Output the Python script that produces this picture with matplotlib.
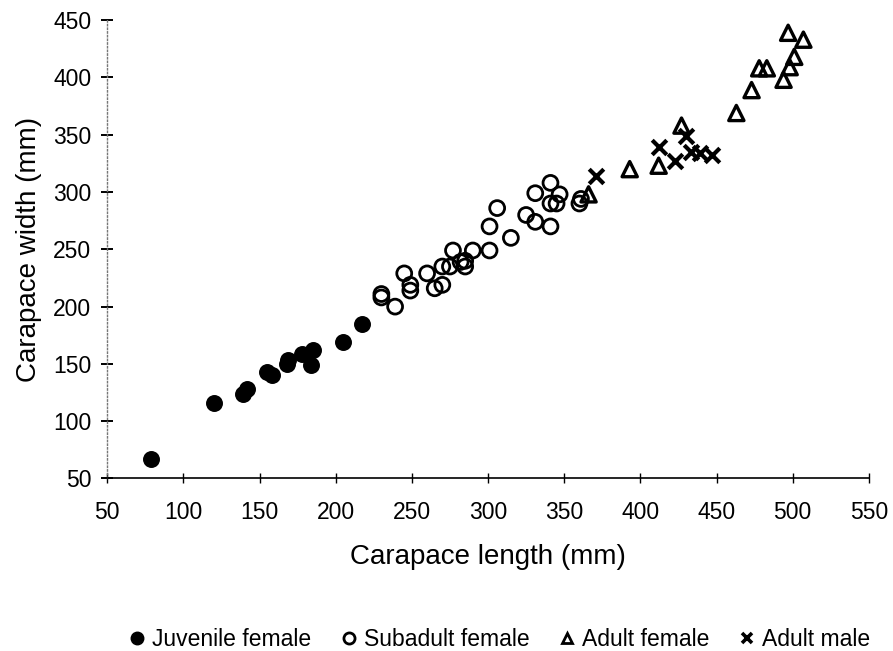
import matplotlib
matplotlib.use("Agg")
import matplotlib.pyplot as plt
from matplotlib.lines import Line2D

plt.rcParams['font.family'] = ['Liberation Sans', 'DejaVu Sans']

# carapace length (x) and width (y), mm
juv_len = [79, 120, 139, 142, 155, 158, 168, 169, 178, 184, 185, 205, 217]
juv_wid = [67, 116, 124, 128, 143, 140, 150, 153, 159, 149, 162, 169, 185]

sub_len = [230, 230, 239, 245, 249, 249, 260, 265, 270, 270, 275, 277, 282, 285,
           285, 290, 301, 301, 306, 315, 325, 331, 331, 341, 341, 341, 345, 347,
           360, 361]
sub_wid = [208, 211, 200, 229, 219, 214, 229, 216, 219, 235, 235, 249, 239, 235,
           240, 249, 249, 270, 286, 260, 280, 274, 299, 270, 308, 290, 290, 298,
           290, 294]

af_len = [366, 393, 412, 427, 463, 473, 478, 483, 494, 498, 501, 497, 507]
af_wid = [298, 320, 323, 358, 369, 389, 408, 408, 398, 409, 418, 439, 433]

am_len = [371, 412, 423, 430, 433, 439, 447]
am_wid = [314, 339, 327, 349, 335, 334, 332]

legend_labels = ['Juvenile female', 'Subadult female', 'Adult female', 'Adult male']

fig = plt.figure(figsize=(8.93, 6.51), dpi=100)
ax = fig.add_axes([0.12, 0.265, 0.853, 0.704])

ax.scatter(juv_len, juv_wid, s=125, marker='o', facecolor='black', edgecolor='black', zorder=3)
ax.scatter(sub_len, sub_wid, s=115, marker='o', facecolor='none', edgecolor='black',
           linewidth=2.0, zorder=3)
ax.scatter(af_len, af_wid, s=120, marker='^', facecolor='none', edgecolor='black',
           linewidth=2.4, zorder=3)
ax.scatter(am_len, am_wid, s=110, marker='x', color='black', linewidth=3.0, zorder=3)

ax.set_xlim(50, 550)
ax.set_ylim(50, 450)
ax.set_xticks(range(50, 551, 50))
ax.set_yticks(range(50, 451, 50))

for side in ['top', 'right']:
    ax.spines[side].set_visible(False)
ax.spines['left'].set_linestyle(':')
ax.spines['left'].set_color('#777777')
ax.spines['left'].set_linewidth(1.0)
ax.spines['bottom'].set_linewidth(1.2)

ax.tick_params(axis='y', direction='inout', length=9, width=1.4, pad=7, labelsize=16.5)
ax.tick_params(axis='x', direction='inout', length=7, width=1.0, pad=13, labelsize=16.5)

ax.set_xlabel('Carapace length (mm)', fontsize=20, labelpad=14)
ax.set_ylabel('Carapace width (mm)', fontsize=20, labelpad=8)

handles = [
    Line2D([], [], linestyle='none', marker='o', markersize=9, color='black'),
    Line2D([], [], linestyle='none', marker='o', markersize=8, markerfacecolor='none',
           markeredgecolor='black', markeredgewidth=2.0),
    Line2D([], [], linestyle='none', marker='^', markersize=7, markerfacecolor='none',
           markeredgecolor='black', markeredgewidth=2.0),
    Line2D([], [], linestyle='none', marker='x', markersize=7, color='black',
           markeredgewidth=2.6),
]
fig.legend(handles, legend_labels, loc='center', bbox_to_anchor=(0.56, 1 - 640 / 651),
           ncol=4, frameon=False, fontsize=16.5, handlelength=0.6, handletextpad=0.35,
           columnspacing=1.35, borderpad=0)

fig.savefig('out.png', dpi=100)
